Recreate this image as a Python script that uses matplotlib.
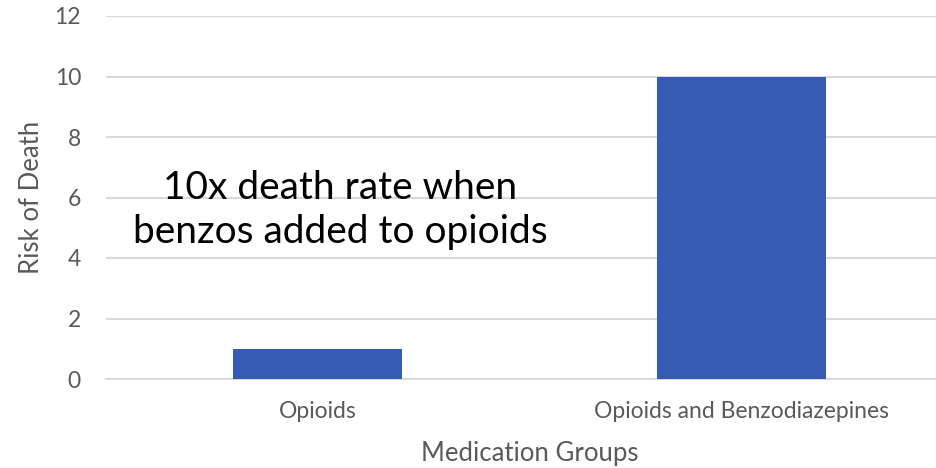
import matplotlib.pyplot as plt
import numpy as np

groups = ["Opioids", "Opioids and Benzodiazepines"]
risk = [1, 10]
y_ticks = [0, 2, 4, 6, 8, 10, 12]

plt.rcParams['font.family'] = ['Lato', 'DejaVu Sans']
grey = "#595959"

fig = plt.figure(figsize=(9.37, 4.68), dpi=100)
ax = fig.add_axes([106 / 937, 1 - 379 / 468, 847 / 937, 363 / 468])

x = np.arange(len(groups))
ax.bar(x, risk, width=0.40, color="#365BB5", zorder=3)

ax.set_xlim(-0.5, len(groups) - 0.5)
ax.set_ylim(0, 12)
ax.set_yticks(y_ticks)
ax.set_xticks(x)
ax.set_xticklabels(groups)
ax.yaxis.grid(True, color="#d9d9d9", linewidth=1.5, zorder=0)
ax.tick_params(axis="both", length=0, labelsize=16.5, labelcolor=grey)
ax.tick_params(axis="y", pad=18)
ax.tick_params(axis="x", pad=16)
for side in ["top", "right", "left"]:
    ax.spines[side].set_visible(False)
ax.spines["bottom"].set_color("#d9d9d9")
ax.spines["bottom"].set_linewidth(1.5)

ax.set_xlabel("Medication Groups", fontsize=18.5, color=grey, va="center")
ax.xaxis.set_label_coords(0.5, (379 - 454) / 363)
ax.set_ylabel("Risk of Death", fontsize=18.5, color=grey, va="center")
ax.yaxis.set_label_coords((32 - 106) / 847, 0.5)

fig.text(340 / 937, 1 - 210 / 468, "10x death rate when\nbenzos added to opioids",
         ha="center", va="center", fontsize=28, color="black", linespacing=1.3)

fig.savefig("out.png", dpi=100)
